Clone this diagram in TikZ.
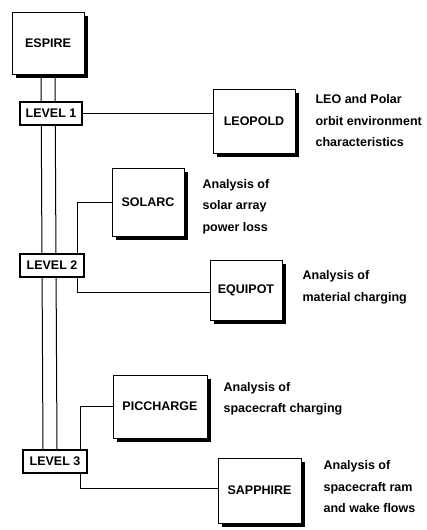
\documentclass[tikz,border=0pt]{standalone}
\usepackage{fontspec}
\setmainfont{Liberation Sans}
\usetikzlibrary{positioning,shadows,backgrounds}
\tikzstyle{block} = [rectangle, draw, fill=white, line width=0.8pt, text centered,
    minimum width=72pt, minimum height=64pt, inner sep=2pt,
    drop shadow={shadow xshift=4pt, shadow yshift=-4pt, fill=black, opacity=1}]
\tikzstyle{lvl} = [rectangle, draw, fill=white, line width=1.6pt, minimum width=64pt, minimum height=23pt, inner sep=2pt]
\tikzstyle{desc} = [align=left, inner sep=0pt]
\tikzstyle{line} = [draw, line width=0.9pt]
\tikzstyle{rail} = [draw, line width=1pt]

\begin{document}
\begin{tikzpicture}[x=1pt, y=-1pt, font=\bfseries\fontsize{12.5}{21.5}\selectfont]
	\useasboundingbox (0,0) rectangle (427,530);

		\node [block, minimum height=62pt] (espire) at (48,43) {ESPIRE};

		\node [lvl, minimum width=62pt] (lvl1) at (51,113.5) {LEVEL 1};
		\node [lvl] (lvl2) at (52,265.5) {LEVEL 2};
		\node [lvl] (lvl3) at (55,461.5) {LEVEL 3};

		\node [block, minimum width=82pt] (leopold) at (254,121) {LEOPOLD};
		\node [block, minimum height=68pt] (solarc) at (148,202) {SOLARC};
		\node [block, minimum height=60pt] (equipot) at (246,290) {EQUIPOT};
		\node [block, minimum width=94pt, minimum height=63pt] (piccharge) at (160,406.5) {PICCHARGE};
		\node [block, minimum width=83pt, minimum height=65pt] (sapphire) at (259.5,490.5) {SAPPHIRE};

		\node [desc, right=20pt of leopold] (leopoldtxt) {LEO and Polar\\orbit environment\\characteristics};
		\node [desc, right=18pt of solarc, yshift=-4.5pt] (solarctxt) {Analysis of\\solar array\\power loss};
		\node [desc, right=20pt of equipot, yshift=2.5pt] (equipottxt) {Analysis of\\material charging};
		\node [desc, right=16pt of piccharge, yshift=7.5pt] (picchargetxt) {Analysis of\\spacecraft charging};
		\node [desc, right=22pt of sapphire, yshift=3.5pt] (sapphiretxt) {Analysis of\\spacecraft ram\\and wake flows};

		\begin{scope}[on background layer]
			\path [rail] ([xshift=-7pt]espire.south) -- ([xshift=-12pt]lvl3.north);
			\path [rail] ([xshift=7pt]espire.south) -- ([xshift=2pt]lvl3.north);
		\end{scope}

		\path [line] (lvl1.east) -- (lvl1.east -| leopold.west);

		\path [line] ([xshift=-7pt]lvl2.north east) |- (solarc.west);
		\path [line] ([xshift=-7pt]lvl2.south east) |- ([yshift=-2pt]equipot.west);

		\path [line] ([xshift=-7pt]lvl3.north east) |- (piccharge.west);
		\path [line] ([xshift=-7pt]lvl3.south east) |- ([yshift=2pt]sapphire.west);
	\end{tikzpicture}
\end{document}
